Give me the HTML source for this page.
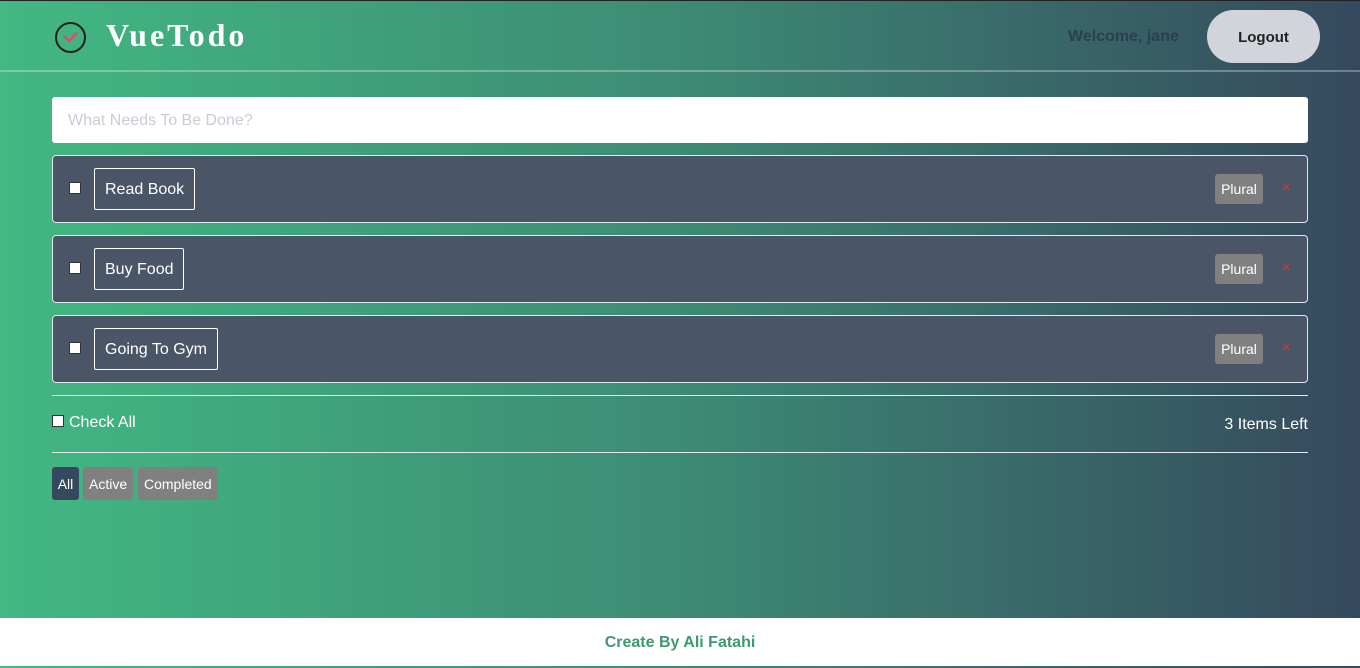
<!DOCTYPE html>
<html><head><meta charset="utf-8"><style>
*{box-sizing:border-box;margin:0;padding:0}
body{width:1360px;height:666px;overflow:hidden;font-family:"Liberation Sans",sans-serif;background:linear-gradient(90deg,#42b883 0%,#3d8b74 50%,#35495e 100%);position:relative}
.topline{position:absolute;left:0;top:0;width:1360px;height:1px;background:#222}
.hdr{position:absolute;left:0;top:0;width:1360px;height:72px;border-bottom:2px solid rgba(255,255,255,.3)}
.logo{position:absolute;left:106px;top:17px;font-family:"Liberation Serif",serif;font-weight:bold;font-size:32px;letter-spacing:3px;color:#fff}
.ico{position:absolute;left:55px;top:22px;width:31px;height:31px;border:2px solid #222;border-radius:50%}
.welcome{position:absolute;left:1068px;top:28px;font-weight:bold;font-size:16px;color:#2c3e50}
.logout{position:absolute;left:1207px;top:10px;width:113px;height:53px;border-radius:27px;background:#d1d5db;font-weight:bold;font-size:15px;color:#222;text-align:center;line-height:55px}
.input{position:absolute;left:52px;top:97px;width:1256px;height:46px;background:#fff;border-radius:3px;color:#c8ccd4;font-size:16px;line-height:48px;padding-left:16px}
.item{position:absolute;left:52px;width:1256px;height:68px;background:#4a5568;border:1px solid #e2e8f0;border-radius:4px}
.cb{position:absolute;left:16px;top:26px;width:12px;height:12px;background:#fff;border:1px solid #333}
.lbl{position:absolute;left:41px;top:12px;height:42px;border:1px solid #fff;border-radius:2px;color:#fff;font-size:16px;line-height:42px;padding:0 10px}
.plural{position:absolute;left:1162px;top:18px;width:48px;height:30px;background:#808080;border-radius:3px;color:#fff;font-size:14px;line-height:30px;text-align:center}
.x{position:absolute;left:1229px;top:23px;color:#e3342f;font-size:15px}
.hr{position:absolute;left:52px;width:1256px;height:1px;background:#e2e8f0}
.btn{position:absolute;top:467px;height:33px;line-height:35px;font-size:14px;color:#fff;padding:0 6px;border-radius:3px;background:#808080}
.foot{position:absolute;left:0;top:618px;width:1360px;height:48px;background:#fff;color:#3d9970;font-weight:bold;font-size:16px;text-align:center;line-height:50px}
</style></head><body>
<div class="topline"></div>
<div class="hdr">
<div class="ico"><svg width="27" height="27" viewBox="0 0 27 27"><path d="M7 12 L12 17 L20 9" stroke="#d94d74" stroke-width="2.5" fill="none"/></svg></div>
<div class="logo">VueTodo</div>
<div class="welcome">Welcome, jane</div>
<div class="logout">Logout</div>
</div>
<div class="input">What Needs To Be Done?</div>
<div class="item" style="top:155px"><div class="cb"></div><div class="lbl">Read Book</div><div class="plural">Plural</div><div class="x">×</div></div>
<div class="item" style="top:235px"><div class="cb"></div><div class="lbl">Buy Food</div><div class="plural">Plural</div><div class="x">×</div></div>
<div class="item" style="top:315px"><div class="cb"></div><div class="lbl">Going To Gym</div><div class="plural">Plural</div><div class="x">×</div></div>
<div class="hr" style="top:395px"></div>
<div style="position:absolute;left:52px;top:414px;color:#fff;font-size:16px"><span style="display:inline-block;width:12px;height:12px;background:#fff;border:1px solid #333;margin-right:5px"></span>Check All</div>
<div style="position:absolute;right:52px;top:416px;color:#fff;font-size:16px">3 Items Left</div>
<div class="hr" style="top:452px"></div>
<div class="btn" style="left:52px;width:27px;background:#35495e;padding:0;text-align:center">All</div>
<div class="btn" style="left:83px;width:50px">Active</div>
<div class="btn" style="left:138px;width:80px">Completed</div>
<div class="foot">Create By Ali Fatahi</div>
</body></html>
